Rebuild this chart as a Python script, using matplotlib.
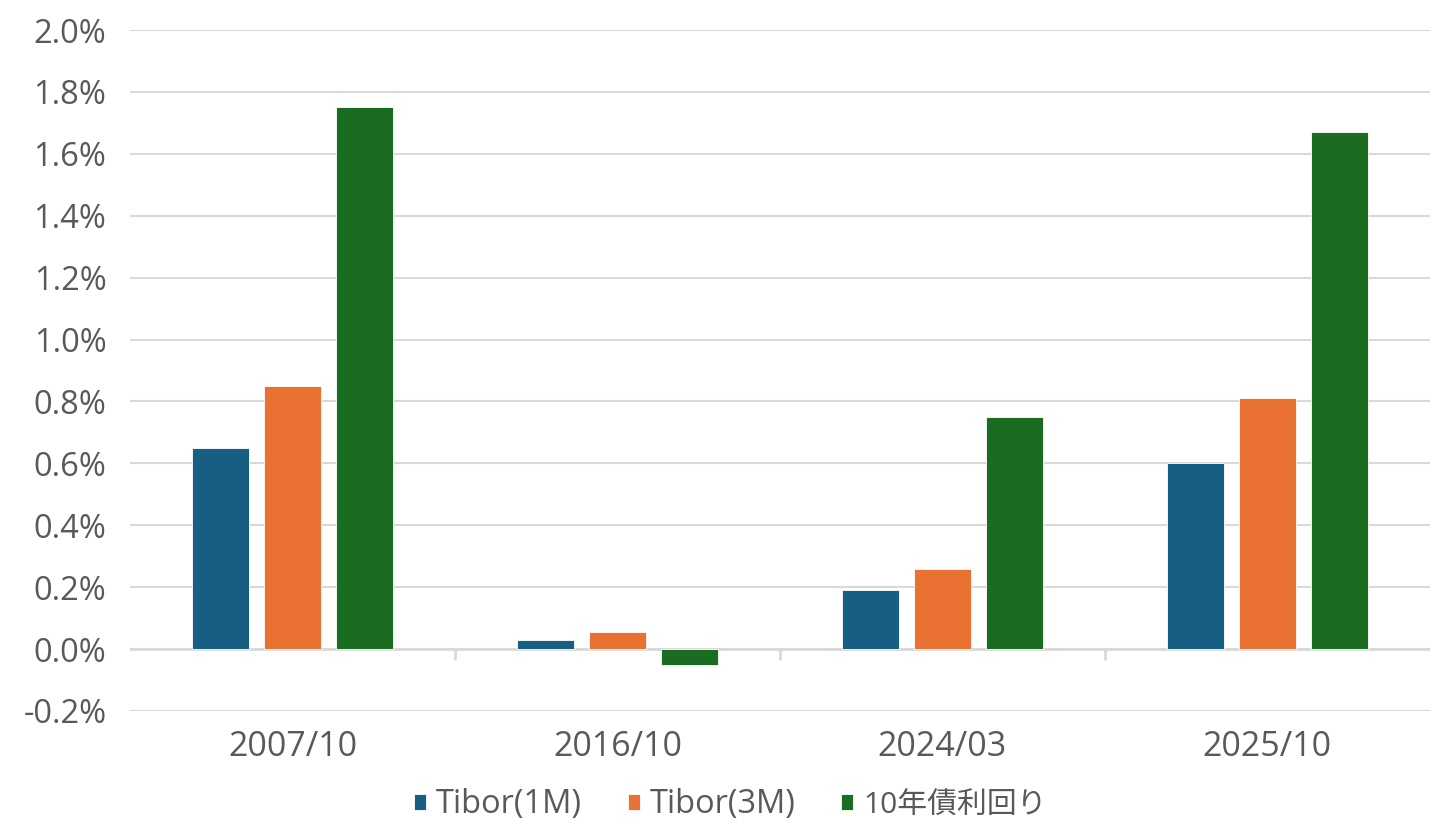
import numpy as np
import matplotlib.pyplot as plt
from matplotlib.ticker import FuncFormatter, FixedLocator

plt.rcParams['font.family'] = ['Open Sans', 'Noto Sans CJK JP', 'DejaVu Sans']

categories = ['2007/10', '2016/10', '2024/03', '2025/10']
series_names = ['Tibor(1M)', 'Tibor(3M)', '10年債利回り']
tibor_1m = [0.65, 0.03, 0.19, 0.60]
tibor_3m = [0.85, 0.055, 0.26, 0.81]
jgb_10y = [1.75, -0.05, 0.75, 1.67]
colors = ['#175f82', '#e97132', '#1b6c23']

text_color = '#595959'
grid_color = '#d9d9d9'
y_min, y_max = -0.2, 2.0

fig = plt.figure(figsize=(14.56, 8.34), dpi=100)
ax = fig.add_axes([0.0893, 0.1475, 0.8927, 0.8165])

x = np.arange(len(categories))
width = 0.175
step = 0.2215
for i, (vals, name) in enumerate(zip([tibor_1m, tibor_3m, jgb_10y], series_names)):
    ax.bar(x + (i - 1) * step, vals, width, color=colors[i], label=name,
           edgecolor='white', linewidth=0.6, zorder=3)

ax.set_xlim(-0.5, len(categories) - 0.5)
ax.set_ylim(y_min, y_max)
ax.set_yticks(np.arange(-0.2, 2.01, 0.2))
ax.yaxis.set_major_formatter(FuncFormatter(lambda v, p: f'{v:.1f}%'))
ax.grid(axis='y', color=grid_color, linewidth=1.5, zorder=0)

ax.set_xticks(x)
ax.set_xticklabels(categories)
ax.tick_params(axis='x', which='major', length=0, pad=14)
ax.tick_params(axis='y', length=0, pad=17)
ax.tick_params(labelsize=23.5, labelcolor=text_color)
for lab in ax.get_xticklabels():
    lab.set_fontsize(24.5)

for s in ['top', 'right', 'left', 'bottom']:
    ax.spines[s].set_visible(False)
ax.axhline(0, color=grid_color, linewidth=2, zorder=2)

# category separator ticks hanging from the zero line
sec = ax.secondary_xaxis(-y_min / (y_max - y_min))
sec.spines['bottom'].set_visible(False)
sec.set_xticks([])
sec.xaxis.set_minor_locator(FixedLocator(x[:-1] + 0.5))
sec.tick_params(axis='x', which='minor', length=8, width=2, color=grid_color)

leg = ax.legend(loc='center', bbox_to_anchor=(0.462, -0.138), ncol=3, frameon=False,
                fontsize=23.5, labelcolor=text_color, handlelength=0.37, handleheight=0.37,
                handletextpad=0.3, columnspacing=1.4, borderaxespad=0)
leg.get_texts()[2].set_fontsize(21.5)

fig.savefig('out.png', dpi=100)
